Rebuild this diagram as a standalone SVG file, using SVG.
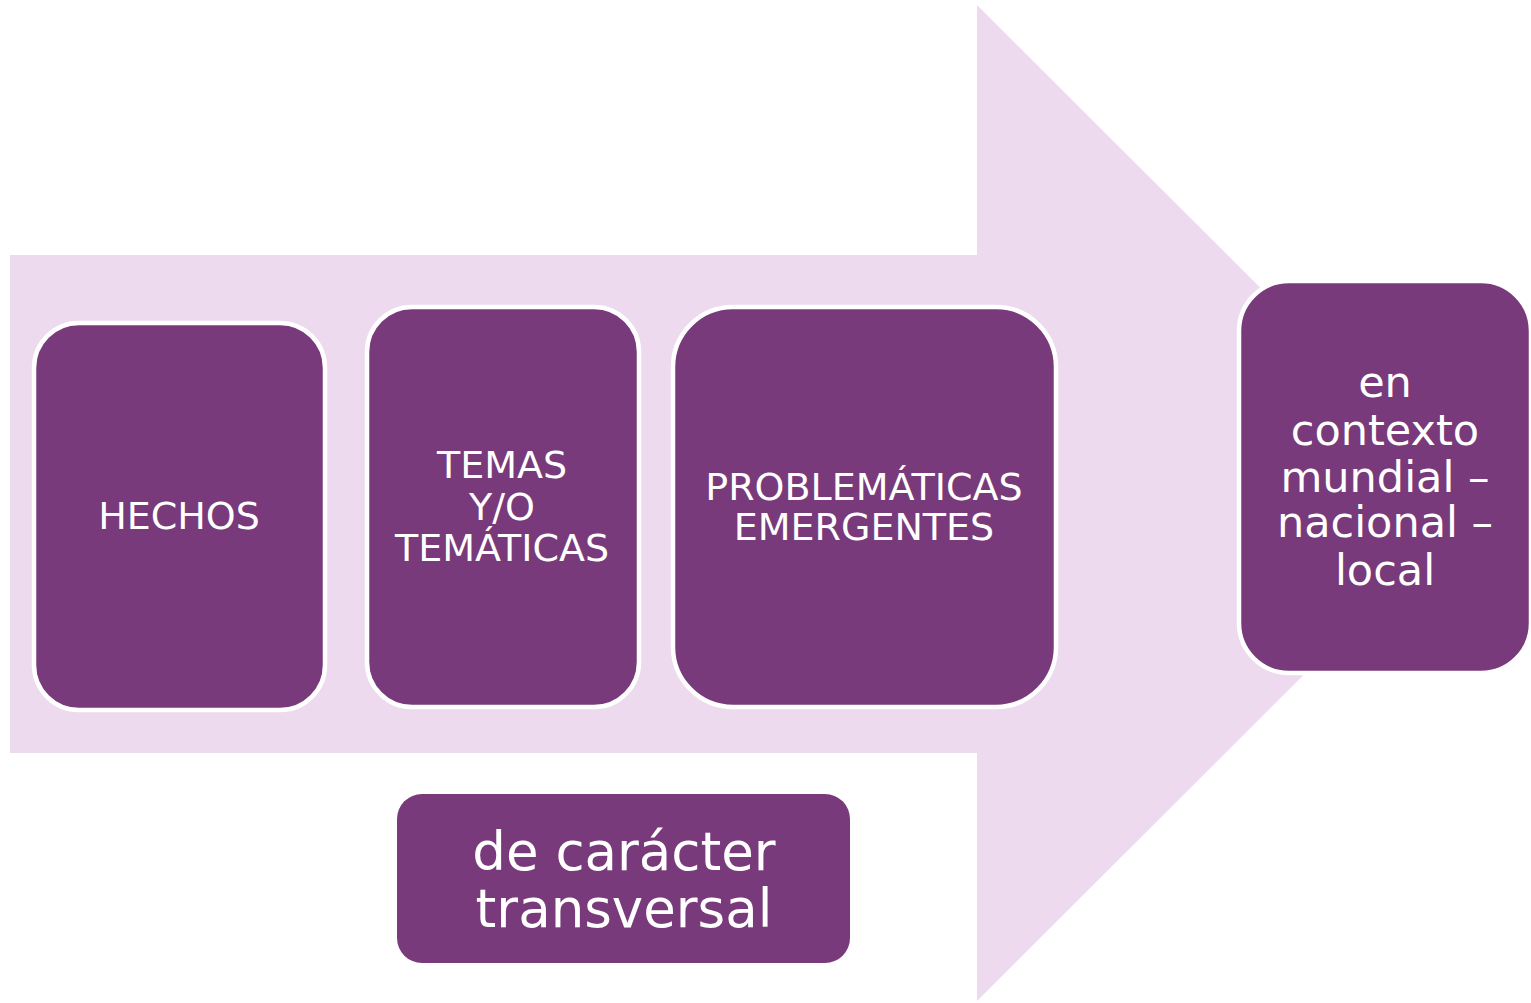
<svg xmlns="http://www.w3.org/2000/svg" width="1531" height="1003" viewBox="0 0 1531 1003">
<style>
.box{fill:#783A7B;stroke:#FFFFFF;stroke-width:4.5}
.plain{fill:#783A7B}
.t{fill:#FFFFFF;font-family:"DejaVu Sans",Verdana,sans-serif;text-anchor:middle}
</style>
<rect width="1531" height="1003" fill="#FFFFFF"/>
<g id="connectors">
<path id="big-arrow" d="M10,255 L977,255 L977,5 L1476,503 L977,1001 L977,753 L10,753 Z" fill="#EDDAEE"/>
</g>
<g id="hechos">
<rect class="box" x="34" y="323" width="291" height="387" rx="45" ry="45"/>
<text class="t" x="179" y="529" font-size="38">HECHOS</text>
</g>
<g id="temas">
<rect class="box" x="367" y="307" width="272" height="400" rx="45" ry="45"/>
<text class="t" font-size="38"><tspan x="502" y="478">TEMAS</tspan><tspan x="502" y="520">Y/O</tspan><tspan x="502" y="561">TEMÁTICAS</tspan></text>
</g>
<g id="problematicas">
<rect class="box" x="673" y="307" width="383" height="400" rx="60" ry="60"/>
<text class="t" font-size="38"><tspan x="864" y="500">PROBLEMÁTICAS</tspan><tspan x="864" y="540">EMERGENTES</tspan></text>
</g>
<g id="contexto">
<rect class="box" x="1239" y="281" width="292" height="392" rx="50" ry="50"/>
<text class="t" font-size="43"><tspan x="1385" y="397">en</tspan><tspan x="1385" y="445">contexto</tspan><tspan x="1385" y="492">mundial –</tspan><tspan x="1385" y="537">nacional –</tspan><tspan x="1385" y="585">local</tspan></text>
</g>
<g id="transversal">
<rect class="plain" x="397" y="794" width="453" height="169" rx="25" ry="25"/>
<text class="t" font-size="53"><tspan x="624" y="870">de carácter</tspan><tspan x="624" y="927">transversal</tspan></text>
</g>
</svg>
